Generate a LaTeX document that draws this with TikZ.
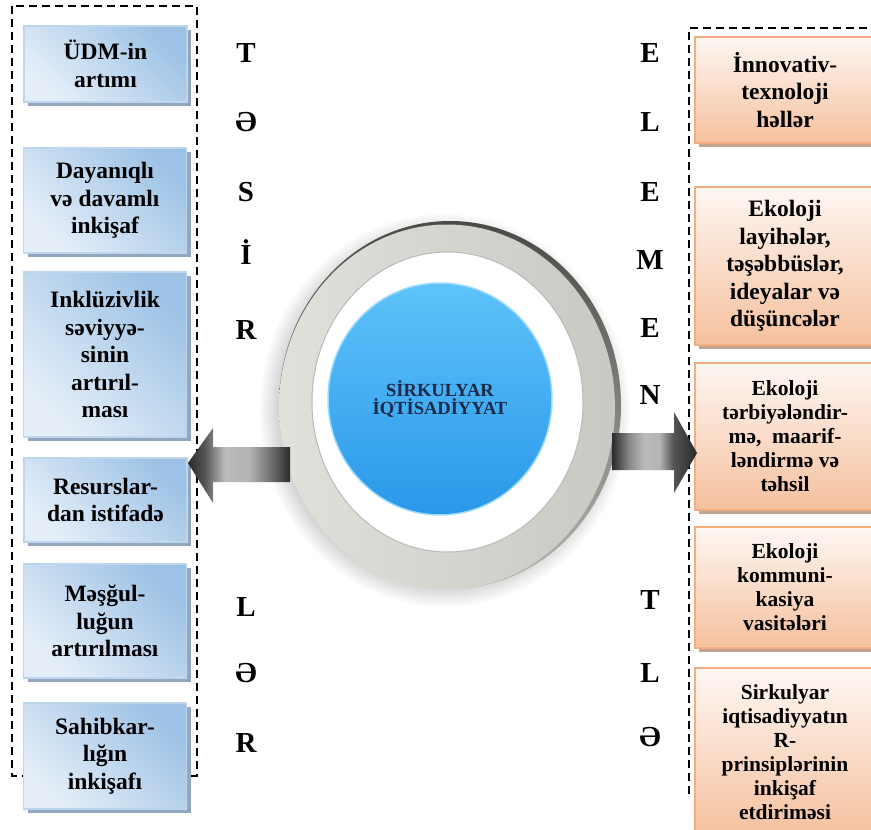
\documentclass[tikz,border=0pt]{standalone}
\usepackage{fontspec}
\setmainfont{Liberation Serif}
\usetikzlibrary{shadows,shapes.geometric}
\definecolor{bshadow}{HTML}{93A7BF}
\definecolor{bborder}{HTML}{BDD6EE}
\definecolor{btop}{HTML}{9DC2E5}
\definecolor{bbot}{HTML}{E6EFF9}
\definecolor{oshadow}{HTML}{C2A591}
\definecolor{oborder}{HTML}{F2AE80}
\definecolor{otop}{HTML}{FEF7F3}
\definecolor{obot}{HTML}{F5C09D}
\definecolor{ringdark}{HTML}{4A4A48}
\definecolor{ringbot}{HTML}{B8B6B0}
\definecolor{ringlight}{HTML}{E2E0DB}
\definecolor{ringmid}{HTML}{CAC8C2}
\definecolor{diskTop}{HTML}{5EC3FA}
\definecolor{diskBot}{HTML}{2A98EA}
\definecolor{navy}{HTML}{1B2A46}
\definecolor{ga}{HTML}{2A2A2A}
\definecolor{gb}{HTML}{555555}
\definecolor{gc}{HTML}{BBBBBB}
\definecolor{gd}{HTML}{B4B4B4}
\definecolor{ge}{HTML}{666666}
\definecolor{gf}{HTML}{888888}
\pgfdeclareradialshading{softshadow}{\pgfpoint{0bp}{0bp}}{color(0bp)=(black!30); color(21bp)=(black!25); color(25bp)=(white); color(50bp)=(white)}
\pgfdeclarehorizontalshading{arrowleft}{100bp}{color(0bp)=(ga); color(25bp)=(ga); color(33bp)=(gb); color(43bp)=(gc); color(55bp)=(gd); color(67bp)=(ge); color(75bp)=(ga); color(100bp)=(ga)}
\pgfdeclarehorizontalshading{arrowright}{100bp}{color(0bp)=(ga); color(25bp)=(ga); color(35bp)=(gf); color(44bp)=(gc); color(53bp)=(gd); color(61bp)=(gb); color(75bp)=(ga); color(100bp)=(ga)}
\begin{document}
\begin{tikzpicture}[x=1pt,y=-1pt,
  dashline/.style={draw=black, line width=1.6pt, dash pattern=on 8pt off 5pt},
  bluebox/.style={rectangle, draw=bborder, line width=1.2pt, top color=btop, bottom color=bbot,
    shading angle=-45, align=center, inner sep=0pt,
    font=\fontsize{23.5}{27.5}\selectfont\bfseries,
    drop shadow={shadow xshift=4pt, shadow yshift=-4pt, fill=bshadow, opacity=1}},
  orangebox/.style={rectangle, draw=oborder, line width=1.6pt, top color=otop, bottom color=obot,
    align=center, inner sep=0pt,
    font=\fontsize{23.5}{27.5}\selectfont\bfseries,
    drop shadow={shadow xshift=4pt, shadow yshift=-4pt, fill=oshadow, opacity=1}},
  smallfont/.style={font=\fontsize{21.5}{24}\selectfont\bfseries},
  letter/.style={font=\fontsize{29}{30}\selectfont\bfseries, inner sep=0pt}
]
\useasboundingbox (0,0) rectangle (871,830);
\fill[white] (0,0) rectangle (871,830);

% dashed frames
\draw[dashline] (12,6) rectangle (197,776);
\draw[dashline] (880,28) -- (689,28) -- (689,793) -- (880,793);

% left boxes
\node[bluebox, minimum width=163pt, minimum height=76pt] (b1) at (105.5,64) {ÜDM-in\\artımı};
\node[bluebox, minimum width=163pt, minimum height=105pt] (b2) at (105,200.5) {Dayanıqlı\\və davamlı\\inkişaf};
\node[bluebox, minimum width=163pt, minimum height=165pt] (b3) at (105,354.5) {Inklüzivlik\\səviyyə-\\sinin\\artırıl-\\ması};
\node[bluebox, minimum width=163pt, minimum height=84pt] (b4) at (105.5,500) {Resurslar-\\dan istifadə};
\node[bluebox, minimum width=163pt, minimum height=114pt] (b5) at (105,621) {Məşğul-\\luğun\\artırılması};
\node[bluebox, minimum width=163pt, minimum height=106pt] (b6) at (105,756) {Sahibkar-\\lığın\\inkişafı};

% right boxes
\node[orangebox, minimum width=180pt, minimum height=106pt] (o1) at (785,90) {İnnovativ-\\texnoloji\\həllər};
\node[orangebox, minimum width=180pt, minimum height=158pt] (o2) at (785,266) {Ekoloji\\layihələr,\\təşəbbüslər,\\ideyalar və\\düşüncələr};
\node[orangebox, smallfont, minimum width=180pt, minimum height=147pt] (o3) at (785,436.5) {Ekoloji\\tərbiyələndir-\\mə,~ maarif-\\ləndirmə və\\təhsil};
\node[orangebox, smallfont, minimum width=180pt, minimum height=121pt] (o4) at (785,587.5) {Ekoloji\\kommuni-\\kasiya\\vasitələri};
\node[orangebox, smallfont, minimum width=180pt, minimum height=168pt] (o5) at (785,752) {Sirkulyar\\iqtisadiyyatın\\R-\\prinsiplərinin\\inkişaf\\etdiriməsi};

% central disc
\shade[shading=softshadow] (444,410) ellipse [x radius=186pt, y radius=198pt];
\shade[top color=ringdark, bottom color=ringbot] (450,405) ellipse [x radius=171pt, y radius=184pt];
\shade[left color=ringlight, right color=ringmid] (447,407) ellipse [x radius=168pt, y radius=182.5pt];
\fill[white, draw=gray!55, line width=1pt] (447.5,402) ellipse [x radius=135.5pt, y radius=150pt];
\node[ellipse, minimum width=224pt, minimum height=232pt, inner sep=0pt,
  top color=diskTop, bottom color=diskBot, draw=diskTop!60!white, line width=1.5pt,
  align=center, text=navy, font=\fontsize{18.5}{18.5}\selectfont\bfseries] (core) at (440,399) {SİRKULYAR\\İQTİSADİYYAT};

% block arrows
\shade[shading=arrowleft]
  (188,463) -- (213,428) -- (213,447) -- (290,447) -- (290,482) -- (213,482) -- (213,503) -- cycle;
\shade[shading=arrowright]
  (612,433) -- (674,433) -- (674,412) -- (697,453) -- (674,493) -- (674,470) -- (612,470) -- cycle;

% letters
\node[letter] (l1) at (246,53) {T};
\node[letter] (l2) at (246,122) {Ə};
\node[letter] (l3) at (246,192) {S};
\node[letter] (l4) at (246,252) {İ};
\node[letter] (l5) at (246,330) {R};
\node[letter] (l6) at (246,607) {L};
\node[letter] (l7) at (246,673) {Ə};
\node[letter] (l8) at (246,743) {R};

\node[letter] (r1) at (650,53) {E};
\node[letter] (r2) at (650,122) {L};
\node[letter] (r3) at (650,192) {E};
\node[letter] (r4) at (650,260) {M};
\node[letter] (r5) at (650,328) {E};
\node[letter] (r6) at (650,395) {N};
\node[letter] (r7) at (650,600) {T};
\node[letter] (r8) at (650,673) {L};
\node[letter] (r9) at (650,737) {Ə};
\end{tikzpicture}
\end{document}
